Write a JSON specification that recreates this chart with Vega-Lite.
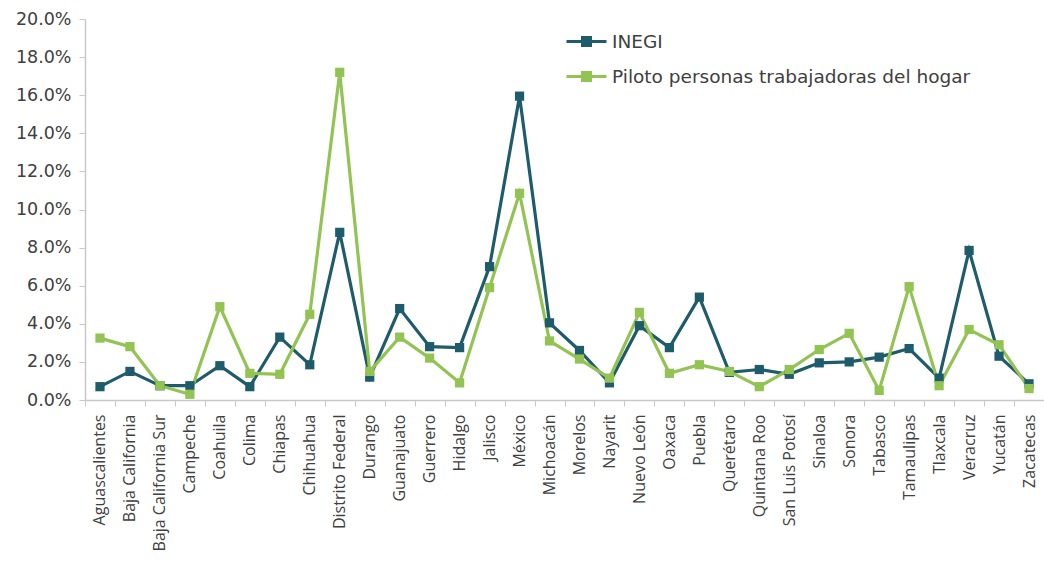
{
  "$schema": "https://vega.github.io/schema/vega-lite/v6.json",
  "width": 959,
  "height": 381,
  "autosize": {"type": "none"},
  "padding": {"left": 85, "top": 19, "right": 0, "bottom": 181},
  "background": "white",
  "config": {
    "view": {"stroke": null},
    "font": "Open Sans",
    "axis": {"labelFont": "Open Sans", "labelColor": "#404040", "domainColor": "#c8c8c8", "tickColor": "#c8c8c8", "grid": false}
  },
  "data": {
    "values": [
      {"estado": "Aguascalientes", "serie": "INEGI", "v": 0.007},
      {"estado": "Baja California", "serie": "INEGI", "v": 0.015},
      {"estado": "Baja California Sur", "serie": "INEGI", "v": 0.0075},
      {"estado": "Campeche", "serie": "INEGI", "v": 0.0075},
      {"estado": "Coahuila", "serie": "INEGI", "v": 0.018},
      {"estado": "Colima", "serie": "INEGI", "v": 0.007},
      {"estado": "Chiapas", "serie": "INEGI", "v": 0.033},
      {"estado": "Chihuahua", "serie": "INEGI", "v": 0.0185},
      {"estado": "Distrito Federal", "serie": "INEGI", "v": 0.088},
      {"estado": "Durango", "serie": "INEGI", "v": 0.012},
      {"estado": "Guanajuato", "serie": "INEGI", "v": 0.048},
      {"estado": "Guerrero", "serie": "INEGI", "v": 0.028},
      {"estado": "Hidalgo", "serie": "INEGI", "v": 0.0275},
      {"estado": "Jalisco", "serie": "INEGI", "v": 0.07},
      {"estado": "México", "serie": "INEGI", "v": 0.1595},
      {"estado": "Michoacán", "serie": "INEGI", "v": 0.0405},
      {"estado": "Morelos", "serie": "INEGI", "v": 0.026},
      {"estado": "Nayarit", "serie": "INEGI", "v": 0.009},
      {"estado": "Nuevo León", "serie": "INEGI", "v": 0.039},
      {"estado": "Oaxaca", "serie": "INEGI", "v": 0.0275},
      {"estado": "Puebla", "serie": "INEGI", "v": 0.054},
      {"estado": "Querétaro", "serie": "INEGI", "v": 0.0145},
      {"estado": "Quintana Roo", "serie": "INEGI", "v": 0.016},
      {"estado": "San Luis Potosí", "serie": "INEGI", "v": 0.0135},
      {"estado": "Sinaloa", "serie": "INEGI", "v": 0.0195},
      {"estado": "Sonora", "serie": "INEGI", "v": 0.02},
      {"estado": "Tabasco", "serie": "INEGI", "v": 0.0225},
      {"estado": "Tamaulipas", "serie": "INEGI", "v": 0.027},
      {"estado": "Tlaxcala", "serie": "INEGI", "v": 0.0115},
      {"estado": "Veracruz", "serie": "INEGI", "v": 0.0785},
      {"estado": "Yucatán", "serie": "INEGI", "v": 0.023},
      {"estado": "Zacatecas", "serie": "INEGI", "v": 0.0085},
      {"estado": "Aguascalientes", "serie": "Piloto personas trabajadoras del hogar", "v": 0.0325},
      {"estado": "Baja California", "serie": "Piloto personas trabajadoras del hogar", "v": 0.028},
      {"estado": "Baja California Sur", "serie": "Piloto personas trabajadoras del hogar", "v": 0.0075},
      {"estado": "Campeche", "serie": "Piloto personas trabajadoras del hogar", "v": 0.003},
      {"estado": "Coahuila", "serie": "Piloto personas trabajadoras del hogar", "v": 0.049},
      {"estado": "Colima", "serie": "Piloto personas trabajadoras del hogar", "v": 0.014},
      {"estado": "Chiapas", "serie": "Piloto personas trabajadoras del hogar", "v": 0.0135},
      {"estado": "Chihuahua", "serie": "Piloto personas trabajadoras del hogar", "v": 0.045},
      {"estado": "Distrito Federal", "serie": "Piloto personas trabajadoras del hogar", "v": 0.172},
      {"estado": "Durango", "serie": "Piloto personas trabajadoras del hogar", "v": 0.015},
      {"estado": "Guanajuato", "serie": "Piloto personas trabajadoras del hogar", "v": 0.033},
      {"estado": "Guerrero", "serie": "Piloto personas trabajadoras del hogar", "v": 0.022},
      {"estado": "Hidalgo", "serie": "Piloto personas trabajadoras del hogar", "v": 0.009},
      {"estado": "Jalisco", "serie": "Piloto personas trabajadoras del hogar", "v": 0.059},
      {"estado": "México", "serie": "Piloto personas trabajadoras del hogar", "v": 0.1085},
      {"estado": "Michoacán", "serie": "Piloto personas trabajadoras del hogar", "v": 0.031},
      {"estado": "Morelos", "serie": "Piloto personas trabajadoras del hogar", "v": 0.0215},
      {"estado": "Nayarit", "serie": "Piloto personas trabajadoras del hogar", "v": 0.0115},
      {"estado": "Nuevo León", "serie": "Piloto personas trabajadoras del hogar", "v": 0.046},
      {"estado": "Oaxaca", "serie": "Piloto personas trabajadoras del hogar", "v": 0.014},
      {"estado": "Puebla", "serie": "Piloto personas trabajadoras del hogar", "v": 0.0185},
      {"estado": "Querétaro", "serie": "Piloto personas trabajadoras del hogar", "v": 0.015},
      {"estado": "Quintana Roo", "serie": "Piloto personas trabajadoras del hogar", "v": 0.007},
      {"estado": "San Luis Potosí", "serie": "Piloto personas trabajadoras del hogar", "v": 0.016},
      {"estado": "Sinaloa", "serie": "Piloto personas trabajadoras del hogar", "v": 0.0265},
      {"estado": "Sonora", "serie": "Piloto personas trabajadoras del hogar", "v": 0.035},
      {"estado": "Tabasco", "serie": "Piloto personas trabajadoras del hogar", "v": 0.005},
      {"estado": "Tamaulipas", "serie": "Piloto personas trabajadoras del hogar", "v": 0.0595},
      {"estado": "Tlaxcala", "serie": "Piloto personas trabajadoras del hogar", "v": 0.0075},
      {"estado": "Veracruz", "serie": "Piloto personas trabajadoras del hogar", "v": 0.037},
      {"estado": "Yucatán", "serie": "Piloto personas trabajadoras del hogar", "v": 0.029},
      {"estado": "Zacatecas", "serie": "Piloto personas trabajadoras del hogar", "v": 0.006}
    ]
  },
  "mark": {
    "type": "line",
    "strokeWidth": 3.2,
    "point": {"shape": "square", "size": 85, "filled": true, "opacity": 1}
  },
  "encoding": {
    "x": {
      "field": "estado",
      "type": "nominal",
      "sort": null,
      "scale": {"type": "band", "paddingInner": 0, "paddingOuter": 0},
      "axis": {
        "title": null,
        "labelAngle": -90,
        "labelFontSize": 16,
        "labelPadding": 8,
        "tickBand": "extent",
        "tickSize": 6,
        "domainWidth": 1.5,
        "labelAlign": "right",
        "labelBaseline": "middle"
      }
    },
    "y": {
      "field": "v",
      "type": "quantitative",
      "scale": {"domain": [0, 0.2], "nice": false},
      "axis": {
        "title": null,
        "format": ".1%",
        "values": [0, 0.02, 0.04, 0.06, 0.08, 0.1, 0.12, 0.14, 0.16, 0.18, 0.2],
        "labelFont": "DejaVu Sans",
        "labelFontSize": 17.5,
        "labelPadding": 8,
        "tickSize": 6,
        "domainWidth": 1.5
      }
    },
    "color": {
      "field": "serie",
      "type": "nominal",
      "scale": {"domain": ["INEGI", "Piloto personas trabajadoras del hogar"], "range": ["#1f5c6b", "#92c353"]},
      "legend": {
        "title": null,
        "orient": "none",
        "legendX": 480,
        "legendY": 11,
        "symbolType": "M-1,0H3M0.6,-0.4H1.4V0.4H0.6Z",
        "symbolSize": 400,
        "symbolStrokeWidth": 3,
        "labelFont": "DejaVu Sans",
        "labelFontSize": 18.5,
        "labelColor": "#404040",
        "labelOffset": 24,
        "labelLimit": 0,
        "rowPadding": 13,
        "encode": {"symbols": {"update": {"fill": {"scale": "color", "field": "value"}, "opacity": {"value": 1}}}}
      }
    }
  }
}
